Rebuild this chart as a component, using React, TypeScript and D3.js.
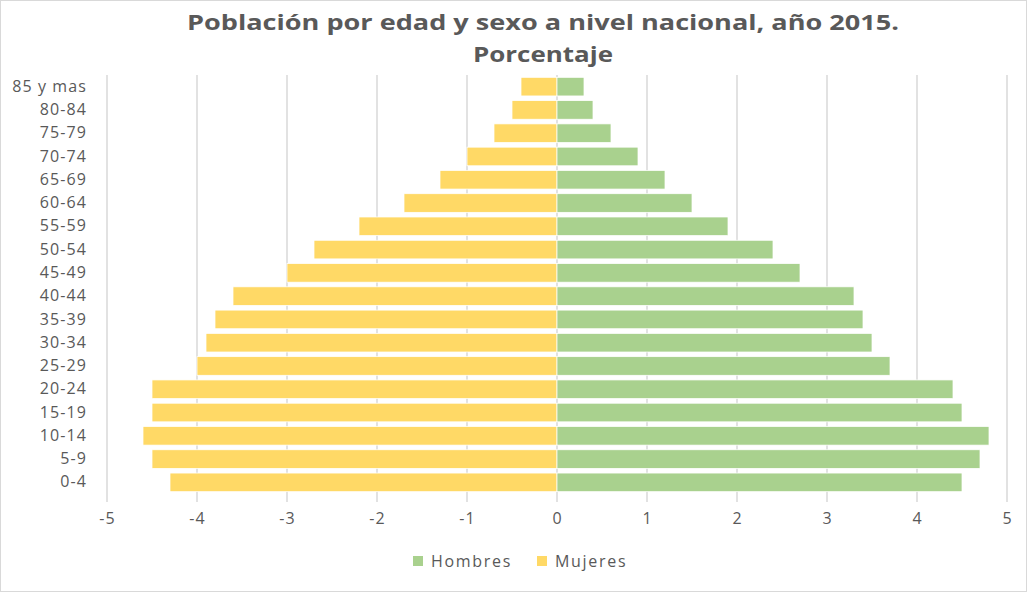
import * as d3 from 'd3';
import { useEffect, useRef } from 'react';

const WIDTH = 1027;
const HEIGHT = 592;
const MARGIN = { top: 75, right: 20, bottom: 98, left: 107 };

// age groups, top to bottom as drawn
const ageGroups = ['85 y mas', '80-84', '75-79', '70-74', '65-69', '60-64', '55-59', '50-54', '45-49',
    '40-44', '35-39', '30-34', '25-29', '20-24', '15-19', '10-14', '5-9', '0-4'];
const hombres = [0.3, 0.4, 0.6, 0.9, 1.2, 1.5, 1.9, 2.4, 2.7, 3.3, 3.4, 3.5, 3.7, 4.4, 4.5, 4.8, 4.7, 4.5];
const mujeres = [-0.4, -0.5, -0.7, -1.0, -1.3, -1.7, -2.2, -2.7, -3.0, -3.6, -3.8, -3.9, -4.0, -4.5, -4.5, -4.6, -4.5, -4.3];
const xTicks = [-5, -4, -3, -2, -1, 0, 1, 2, 3, 4, 5];

const GREEN = '#a9d18e';
const YELLOW = '#ffd966';
const TEXT = '#595959';
const FONT = "'Open Sans', sans-serif";

const Piramide = () => {
    const svgRef = useRef(null);

    useEffect(() => {
        const svg = d3.select(svgRef.current);
        svg.selectAll('*').remove();

        const boundsWidth = 1007 - MARGIN.left;
        const boundsHeight = HEIGHT - MARGIN.top - MARGIN.bottom;

        const xScale = d3.scaleLinear().domain([-5, 5]).range([0, boundsWidth]);
        const yScale = d3.scaleBand().domain(ageGroups).range([0, boundsHeight]).paddingInner(0.2).paddingOuter(0.1);

        // chart frame
        svg.append('rect')
            .attr('x', 0.5).attr('y', 0.5)
            .attr('width', WIDTH - 1).attr('height', HEIGHT - 1)
            .attr('fill', '#fff').attr('stroke', '#d9d9d9');

        // title
        const title = svg.append('text')
            .attr('text-anchor', 'middle')
            .attr('font-family', FONT)
            .attr('font-weight', 700)
            .attr('font-size', 21)
            .attr('fill', TEXT);
        title.append('tspan').attr('x', 543).attr('y', 30)
            .attr('textLength', 712).attr('lengthAdjust', 'spacingAndGlyphs')
            .text('Población por edad y sexo a nivel nacional, año 2015.');
        title.append('tspan').attr('x', 543).attr('y', 62)
            .attr('textLength', 140).attr('lengthAdjust', 'spacingAndGlyphs')
            .text('Porcentaje');

        const g = svg.append('g').attr('transform', `translate(${MARGIN.left}, ${MARGIN.top})`);

        // gridlines
        g.append('g')
            .selectAll('line')
            .data(xTicks)
            .join('line')
            .attr('x1', (d) => xScale(d)).attr('x2', (d) => xScale(d))
            .attr('y1', 0).attr('y2', boundsHeight + 8)
            .attr('stroke', '#d9d9d9').attr('stroke-width', 1.5);

        // bars
        const bandOf = (i: number) => yScale(ageGroups[i]);
        g.append('g')
            .selectAll('rect')
            .data(mujeres)
            .join('rect')
            .attr('x', (d) => xScale(d))
            .attr('y', (_, i) => bandOf(i))
            .attr('width', (d) => xScale(0) - xScale(d))
            .attr('height', yScale.bandwidth())
            .attr('fill', YELLOW).attr('stroke', '#fff').attr('stroke-width', 0.75);

        g.append('g')
            .selectAll('rect')
            .data(hombres)
            .join('rect')
            .attr('x', xScale(0))
            .attr('y', (_, i) => bandOf(i))
            .attr('width', (d) => xScale(d) - xScale(0))
            .attr('height', yScale.bandwidth())
            .attr('fill', GREEN).attr('stroke', '#fff').attr('stroke-width', 0.75);

        // y axis labels
        const yAxis = g.append('g')
            .call(d3.axisLeft(yScale).tickSize(0).tickPadding(20));
        yAxis.select('.domain').remove();
        yAxis.selectAll('text')
            .attr('font-family', FONT).attr('font-size', 16).attr('letter-spacing', 1.1).attr('fill', TEXT);

        // x axis labels
        const xAxis = g.append('g')
            .attr('transform', `translate(0, ${boundsHeight})`)
            .call(d3.axisBottom(xScale).tickValues(xTicks).tickSize(0).tickPadding(19).tickFormat((d) => String(d)));
        xAxis.select('.domain').remove();
        xAxis.selectAll('text')
            .attr('font-family', FONT).attr('font-size', 16).attr('letter-spacing', 1).attr('fill', TEXT);

        // legend
        const legendItems = [
            { label: 'Hombres', color: GREEN, x: 413 },
            { label: 'Mujeres', color: YELLOW, x: 537 },
        ];
        const legend = svg.append('g');
        legendItems.forEach((item) => {
            legend.append('rect')
                .attr('x', item.x).attr('y', 556)
                .attr('width', 10).attr('height', 10)
                .attr('fill', item.color);
            legend.append('text')
                .attr('x', item.x + 18).attr('y', 567)
                .attr('font-family', FONT).attr('font-size', 16).attr('letter-spacing', 1.7).attr('fill', TEXT)
                .text(item.label);
        });
    }, []);

    return <svg ref={svgRef} width={WIDTH} height={HEIGHT} style={{ display: 'block' }} />;
};

export default function App() {
    return (
        <div style={{ position: 'absolute', left: 0, top: 0, width: WIDTH, height: HEIGHT }}>
            <Piramide />
        </div>
    );
}
